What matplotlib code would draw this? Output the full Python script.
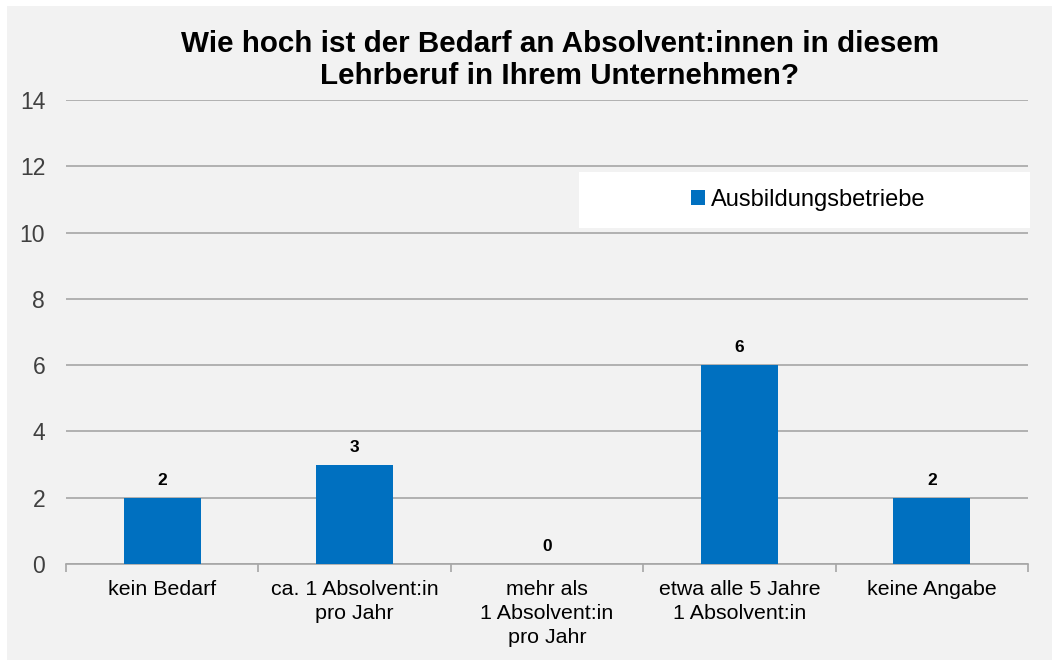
import matplotlib.pyplot as plt
from matplotlib.patches import Rectangle

categories = [
    "kein Bedarf",
    "ca. 1 Absolvent:in\npro Jahr",
    "mehr als\n1 Absolvent:in\npro Jahr",
    "etwa alle 5 Jahre\n1 Absolvent:in",
    "keine Angabe",
]
values = [2, 3, 0, 6, 2]
series_name = "Ausbildungsbetriebe"
title = "Wie hoch ist der Bedarf an Absolvent:innen in diesem\nLehrberuf in Ihrem Unternehmen?"
y_ticks = [0, 2, 4, 6, 8, 10, 12, 14]

BAR_COLOR = "#0070C0"
BG = "#F2F2F2"
GRID = "#A6A6A6"

plt.rcParams["font.family"] = ["Liberation Sans", "DejaVu Sans"]

fig = plt.figure(figsize=(10.52, 6.61), dpi=100, facecolor="white")
# grey chart panel with a thin white margin on the left/top
fig.patches.append(Rectangle((7 / 1052, 1 / 661), 1 - 7 / 1052, 654 / 661,
                             transform=fig.transFigure, facecolor=BG,
                             edgecolor="none", zorder=-10))

ax = fig.add_axes([66 / 1052, 1 - 564 / 661, 962 / 1052, 464 / 661])
ax.set_facecolor("none")

x = range(len(categories))
bars = ax.bar(x, values, width=0.4, color=BAR_COLOR, zorder=3, label=series_name)

for bar, v in zip(bars, values):
    ax.text(bar.get_x() + bar.get_width() / 2, v + 0.3, f"{v}",
            ha="center", va="bottom", fontsize=12.5, fontweight="bold")

ax.set_xlim(-0.5, len(categories) - 0.5)
ax.set_ylim(0, 14)
ax.set_yticks(y_ticks)
ax.yaxis.grid(True, color=GRID, linewidth=1.2)
ax.set_axisbelow(True)

for side in ["top", "right", "left"]:
    ax.spines[side].set_visible(False)
ax.spines["bottom"].set_color(GRID)
ax.spines["bottom"].set_linewidth(1.2)

ax.tick_params(axis="y", length=0, labelsize=16.5, labelcolor="#404040", pad=15)
ax.set_xticks(list(x))
ax.set_xticklabels(categories, fontsize=15.4, linespacing=1.34)
ax.tick_params(axis="x", length=0, pad=11.5)

# small boundary ticks between categories
ax.set_xticks([i - 0.5 for i in range(len(categories) + 1)], minor=True)
ax.tick_params(axis="x", which="minor", length=6, color=GRID, width=1.2)

# white legend box
ax.add_patch(Rectangle((0.533, 0.724), 0.469, 0.1207, transform=ax.transAxes,
                       facecolor="white", edgecolor="none", zorder=4,
                       clip_on=False))
ax.legend(loc="center", bbox_to_anchor=(0.533 + 0.469 / 2 + 0.004, 0.724 + 0.1207 / 2),
          frameon=False, fontsize=17, handlelength=0.6, handleheight=0.6,
          handletextpad=0.25)

fig.text(560 / 1052, 1 - 60 / 661, title, ha="center", va="center",
         fontsize=21.3, fontweight="bold", linespacing=1.2)

fig.savefig("out.png", dpi=100, facecolor=fig.get_facecolor())
